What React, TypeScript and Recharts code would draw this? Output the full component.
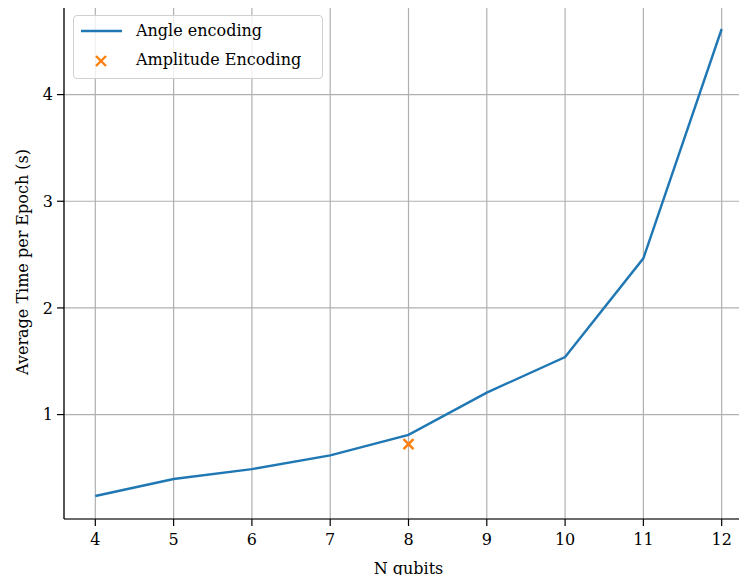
import React from 'react';
import {
    ComposedChart,
    Line,
    Scatter,
    XAxis,
    YAxis,
    CartesianGrid
} from 'recharts';

// values
const qubits = [4, 5, 6, 7, 8, 9, 10, 11, 12];
const angleTimes = [0.237, 0.396, 0.489, 0.617, 0.81, 1.206, 1.54, 2.465, 4.615];
const amplitudeQubits = [8];
const amplitudeTimes = [0.723];
const yTicks = [1, 2, 3, 4];
const xDomain = [3.6, 12.4];
const yDomain = [0.021, 4.84];

const FONT = '"DejaVu Serif", "Liberation Serif", serif';
const FS = 16;
const BLUE = '#1f77b4';
const ORANGE = '#ff7f0e';

const angleData = qubits.map((q, i) => ({ x: q, angle: angleTimes[i] }));
const amplitudeData = amplitudeQubits.map((q, i) => ({ x: q, amp: amplitudeTimes[i] }));

const XMark = (props: any) => {
    const { cx, cy } = props;
    const s = 5;
    return (
        <g stroke={ORANGE} strokeWidth={2.4}>
            <line x1={cx - s} y1={cy - s} x2={cx + s} y2={cy + s} />
            <line x1={cx - s} y1={cy + s} x2={cx + s} y2={cy - s} />
        </g>
    );
};

const LegendBox = () => (
    <div
        style={{
            position: 'absolute',
            left: 73,
            top: 15,
            width: 248,
            height: 62,
            border: '1px solid #d0d0d0',
            borderRadius: 4,
            background: 'rgba(255,255,255,0.8)',
            fontFamily: FONT,
            fontSize: FS,
            color: '#000'
        }}
    >
        <svg width={60} height={62} style={{ position: 'absolute', left: 0, top: 0 }}>
            <line x1={7} y1={15} x2={48} y2={15} stroke={BLUE} strokeWidth={2.4} />
            <g stroke={ORANGE} strokeWidth={2.4}>
                <line x1={22} y1={40} x2={32} y2={50} />
                <line x1={22} y1={50} x2={32} y2={40} />
            </g>
        </svg>
        <div style={{ position: 'absolute', left: 62, top: 5, whiteSpace: 'nowrap' }}>Angle encoding</div>
        <div style={{ position: 'absolute', left: 62, top: 34, whiteSpace: 'nowrap' }}>Amplitude Encoding</div>
    </div>
);

export default function App() {
    return (
        <div style={{ position: 'relative', width: 731, height: 567 }}>
            <div style={{ position: 'absolute', left: -8, top: -8, width: 747, height: 583, overflow: 'hidden', background: '#fff' }}>
                <ComposedChart
                    width={747}
                    height={583}
                    margin={{ top: 5, right: -6, left: 8, bottom: 0 }}
                    style={{ fontFamily: FONT }}
                >
                    <CartesianGrid stroke="#b0b0b0" strokeWidth={1.2} />
                    <XAxis
                        dataKey="x"
                        type="number"
                        domain={xDomain}
                        ticks={qubits}
                        allowDuplicatedCategory={false}
                        stroke="#000"
                        strokeWidth={1.2}
                        tickSize={7}
                        tickMargin={8}
                        height={64}
                        tick={{ fill: '#000', fontSize: FS, fontFamily: FONT }}
                        label={{ value: 'N qubits', position: 'insideBottom', offset: 9, fill: '#000', fontSize: FS, fontFamily: FONT }}
                    />
                    <YAxis
                        type="number"
                        domain={yDomain}
                        ticks={yTicks}
                        stroke="#000"
                        strokeWidth={1.2}
                        tickSize={7}
                        tickMargin={4}
                        width={56}
                        tick={{ fill: '#000', fontSize: FS, fontFamily: FONT }}
                        label={{ value: 'Average Time per Epoch (s)', angle: -90, position: 'insideLeft', offset: 14, style: { textAnchor: 'middle' }, fill: '#000', fontSize: FS, fontFamily: FONT }}
                    />
                    <Line
                        data={angleData}
                        dataKey="angle"
                        name="Angle encoding"
                        stroke={BLUE}
                        strokeWidth={2.4}
                        dot={false}
                        isAnimationActive={false}
                    />
                    <Scatter
                        data={amplitudeData}
                        dataKey="amp"
                        name="Amplitude Encoding"
                        fill={ORANGE}
                        shape={<XMark />}
                        isAnimationActive={false}
                    />
                </ComposedChart>
                {/* top spine of the axes frame */}
                <div style={{ position: 'absolute', left: 64, top: 4, width: 700, borderTop: '1.3px solid #000' }} />
                <LegendBox />
            </div>
        </div>
    );
}
